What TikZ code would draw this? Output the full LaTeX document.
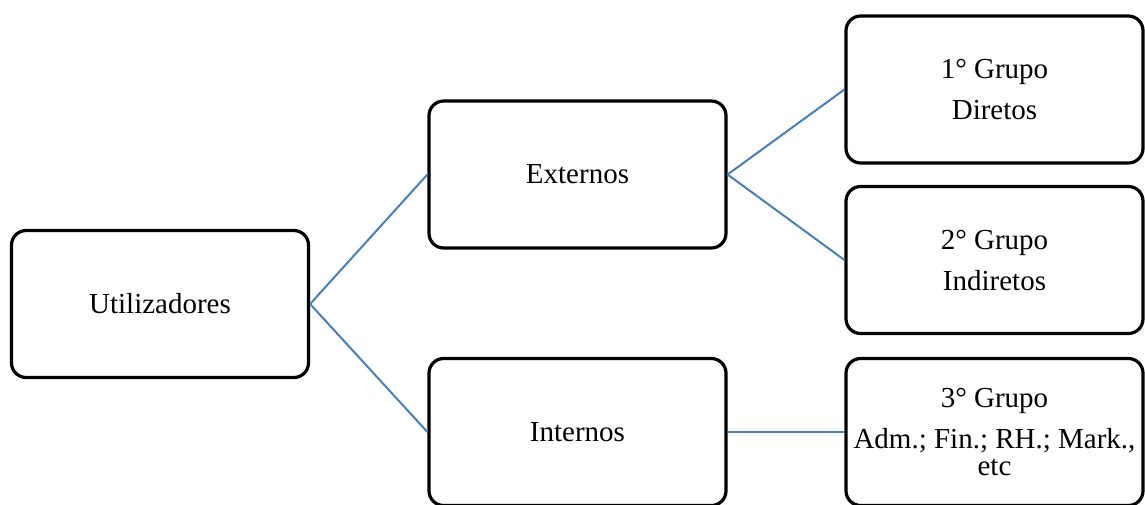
\documentclass[tikz,border=0pt]{standalone}
\usepackage{fontspec}
\setmainfont{Liberation Serif}
\definecolor{linkblue}{HTML}{4A7EBB}
\begin{document}
\begin{tikzpicture}[x=0.75pt,y=-0.75pt,
  box/.style={draw=black, line width=2.4pt, rounded corners=11pt, fill=white,
    minimum width=222.75pt, minimum height=110.25pt, inner sep=0pt,
    align=center, font=\fontsize{21.75}{20.25}\selectfont},
  link/.style={draw=linkblue, line width=1.5pt}]
  \useasboundingbox (0,0) rectangle (1145,504);
  % first level
  \node[box] (util) at (160,304) {Utilizadores};
  % second level
  \node[box] (ext) at (577.5,174.5) {Externos};
  \node[box] (int) at (577.5,432) {Internos};
  % groups
  \node[box] (g1) at (994.5,89.5) {1° Grupo\\[10.5pt]Diretos};
  \node[box] (g2) at (994.5,260) {2° Grupo\\[10.5pt]Indiretos};
  \node[box] (g3) at (994.5,432) {3° Grupo\\[10.5pt]Adm.; Fin.; RH.; Mark.,\\etc};
  % connectors
  \draw[link] (util.east) -- (ext.west);
  \draw[link] (util.east) -- (int.west);
  \draw[link] (ext.east) -- (g1.west);
  \draw[link] (ext.east) -- (g2.west);
  \draw[link] (int.east) -- (g3.west);
\end{tikzpicture}
\end{document}
